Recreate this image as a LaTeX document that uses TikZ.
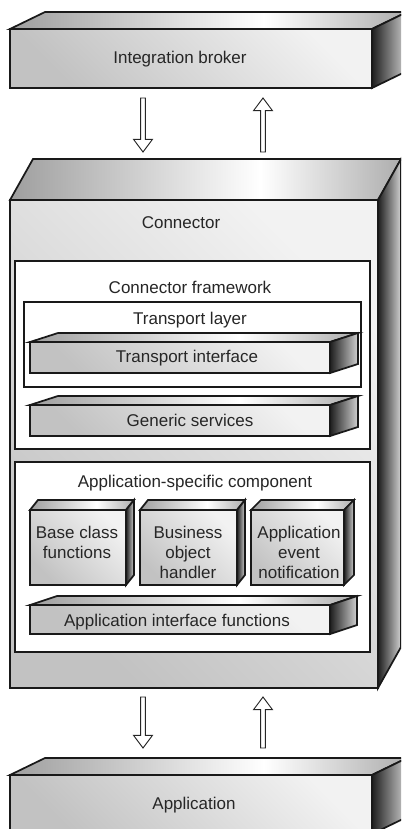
\documentclass[tikz,border=0pt]{standalone}
\usepackage{fontspec}
\setmainfont{Liberation Sans}
\usetikzlibrary{calc,fit}
\pgfdeclarehorizontalshading{frontshade}{100bp}{color(0bp)=(black!24); color(25bp)=(black!24); color(75bp)=(black!5); color(100bp)=(black!5)}
\pgfdeclarehorizontalshading{topshade}{100bp}{color(0bp)=(black!38); color(25bp)=(black!38); color(57bp)=(white); color(75bp)=(black!32); color(100bp)=(black!32)}
\pgfdeclarehorizontalshading{sideshade}{100bp}{color(0bp)=(black!88); color(25bp)=(black!88); color(75bp)=(black!18); color(100bp)=(black!18)}
\tikzstyle{front}=[draw=black!90, line width=1.3pt, inner sep=0pt, outer sep=0pt, shading=frontshade, shading angle=45]
\tikzstyle{topface}=[draw=black!90, line width=1.3pt, shading=topshade]
\tikzstyle{sideface}=[draw=black!90, line width=1.3pt, shading=sideshade]
\tikzstyle{whitebox}=[draw=black!90, line width=1.3pt, fill=white, inner sep=0pt, outer sep=0pt]
\tikzstyle{lbl}=[inner sep=0pt, align=center, text=black!85, font=\fontsize{12.75}{15}\selectfont]
\tikzstyle{hollow}=[draw=black!85, fill=white, line width=0.7pt, to path={
    let \p1=(\tikztostart), \p2=(\tikztotarget), \p3=($(\tikztotarget)!9.5pt!(\tikztostart)$) in
    (\x1-1.8pt,\y1) -- (\x1-1.8pt,\y3) -- (\x1-7.1pt,\y3) -- (\x2,\y2) -- (\x1+7.1pt,\y3) -- (\x1+1.8pt,\y3) -- (\x1+1.8pt,\y1) -- cycle}]
% top and right faces of a slab
\newcommand{\slabfaces}[3]{%
  \draw[topface] (#1.north west) -- ++(#2,#3) -- ($(#1.north east)+(#2,#3)$) -- (#1.north east) -- cycle;
  \draw[sideface] (#1.north east) -- ++(#2,#3) -- ($(#1.south east)+(#2,#3)$) -- (#1.south east) -- cycle;}

\begin{document}
\begin{tikzpicture}[x=0.75pt,y=0.75pt,yscale=-1,xscale=1]
\useasboundingbox (0,0) rectangle (401,829);
\clip (0,0) rectangle (401,829);

%Shape: Integration broker slab
\node[front, fit={(10,29) (372,88)}] (broker) {};
\slabfaces{broker}{35}{-17}
%Shape: Connector block
\node[front, fit={(10,200) (378,688)}] (conn) {};
\slabfaces{conn}{23}{-41}
%Shape: Application slab
\node[front, fit={(10,775) (372,834)}] (app) {};
\slabfaces{app}{35}{-17}

%Rect: Connector framework
\node[whitebox, fit={(15,261) (370,449)}] (frame) {};
%Rect: Transport layer
\node[whitebox, fit={(24,302) (361,387)}] (tlayer) {};
%Shape: Transport interface bar
\node[front, fit={(30,342) (330,373)}] (tiface) {};
\slabfaces{tiface}{28}{-9}
%Shape: Generic services bar
\node[front, fit={(30,405) (330,436)}] (gserv) {};
\slabfaces{gserv}{28}{-9}

%Rect: Application-specific component
\node[whitebox, fit={(15,462) (370,652)}] (appspec) {};
%Shape: cubes
\node[front, fit={(30,510) (126,585)}] (baseclass) {};
\slabfaces{baseclass}{8}{-10}
\node[front, fit={(140,510) (237,585)}] (bohandler) {};
\slabfaces{bohandler}{8}{-10}
\node[front, fit={(251,510) (344,585)}] (evnotify) {};
\slabfaces{evnotify}{10}{-10}
%Shape: Application interface functions bar
\node[front, fit={(30,605) (330,634)}] (aiface) {};
\slabfaces{aiface}{27}{-9}

%Hollow arrows
\draw[hollow] ($(broker.south west)+(133,10)$) to ($(conn.north west)+(133,-48)$);
\draw[hollow] ($(conn.north west)+(253,-48)$) to ($(broker.south west)+(253,10)$);
\draw[hollow] ($(conn.south west)+(133,9)$) to ($(app.north west)+(133,-27)$);
\draw[hollow] ($(app.north west)+(253,-27)$) to ($(conn.south west)+(253,9)$);

% Text Node
\node[lbl] (brokertxt) at (180,59) {Integration broker};
% Text Node
\node[lbl] (conntxt) at (181,223) {Connector};
% Text Node
\node[lbl] (frametxt) at (190,287) {Connector framework};
% Text Node
\node[lbl] (tlayertxt) at (190,320) {Transport layer};
% Text Node
\node[lbl] (tifacetxt) at (187,358) {Transport interface};
% Text Node
\node[lbl] (gservtxt) at (190,420) {Generic services};
% Text Node
\node[lbl] (appspectxt) at (195,483) {Application-specific component};
% Text Node
\node[lbl] (baseclasstxt) at (77,542) {Base class\\functions};
% Text Node
\node[lbl] (bohandlertxt) at (188,552) {Business\\object\\handler};
% Text Node
\node[lbl] (evnotifytxt) at (299,552) {Application\\event\\notification};
% Text Node
\node[lbl] (aifacetxt) at (177,622) {Application interface functions};
% Text Node
\node[lbl] (apptxt) at (194,805) {Application};

\end{tikzpicture}
\end{document}
